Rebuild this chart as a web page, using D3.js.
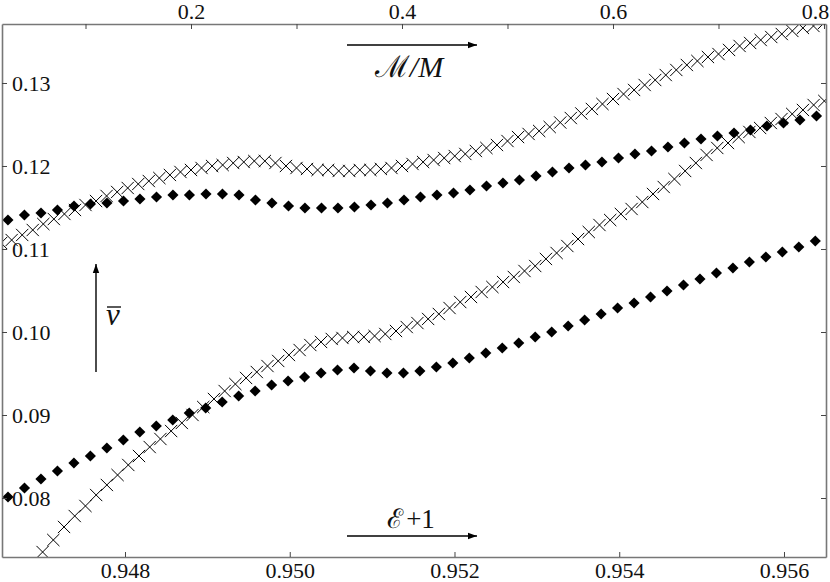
<!DOCTYPE html>
<html><head><meta charset="utf-8">
<script src="https://cdn.jsdelivr.net/npm/d3@7"></script>
<style>
body{margin:0;background:#fff}
svg{display:block}
text{font-family:"Liberation Serif","DejaVu Serif",serif;fill:#111}
</style>
</head><body>
<svg id="c" width="830" height="582"></svg>
<script>
// ---- data ----
// upper pair: v-bar against M/M (top axis)
const upperCrossX = [0.02,0.03,0.04,0.05,0.06,0.07,0.08,0.09,0.10,0.11,0.12,0.13,0.14,0.15,0.16,0.17,0.18,0.19,0.20,
 0.21,0.22,0.23,0.24,0.25,0.26,0.27,0.28,0.29,0.30,0.31,0.32,0.33,0.34,0.35,0.36,0.37,0.38,0.39,0.40,
 0.41,0.42,0.43,0.44,0.45,0.46,0.47,0.48,0.49,0.50,0.51,0.52,0.53,0.54,0.55,0.56,0.57,0.58,0.59,0.60,
 0.61,0.62,0.63,0.64,0.65,0.66,0.67,0.68,0.69,0.70,0.71,0.72,0.73,0.74,0.75,0.76,0.77,0.78,0.79,0.80];
const upperCrossV = [0.11072,0.11108,0.11169,0.11229,0.11301,0.11361,0.11422,0.11470,0.11530,0.11578,0.11639,0.11687,0.11735,0.11783,0.11819,0.11855,0.11892,0.11928,0.11952,
 0.11976,0.12000,0.12012,0.12036,0.12048,0.12060,0.12060,0.12036,0.12000,0.11976,0.11964,0.11952,0.11952,0.11940,0.11940,0.11952,0.11952,0.11964,0.11976,0.12000,
 0.12024,0.12048,0.12072,0.12096,0.12120,0.12145,0.12181,0.12217,0.12253,0.12301,0.12349,0.12386,0.12422,
 0.12470,0.12524,0.12578,0.12633,0.12687,0.12747,0.12807,0.12867,0.12916,0.12976,0.13036,0.13096,0.13157,0.13217,0.13265,0.13313,0.13349,0.13398,0.13446,0.13482,0.13518,0.13554,0.13590,0.13627,0.13663,0.13687,0.13723];
const upperDiamondX = [0.0265,0.0421,0.0578,0.0734,0.0891,0.1047,0.1203,0.1360,0.1516,0.1673,0.1829,0.1985,0.2142,0.2298,0.2455,0.2611,0.2767,0.2924,0.3080,0.3237,
 0.3393,0.3549,0.3706,0.3862,0.4019,0.4175,0.4331,0.4488,0.4644,0.4801,0.4957,0.5113,0.5270,0.5426,0.5583,0.5739,0.5895,0.6052,0.6208,0.6365,
 0.6521,0.6677,0.6834,0.6990,0.7147,0.7303,0.7459,0.7616,0.7772,0.7929];
const upperDiamondV = [0.11349,0.11410,0.11434,0.11470,0.11518,0.11542,0.11554,0.11578,0.11602,0.11627,0.11651,0.11651,0.11663,0.11663,0.11651,0.11590,0.11554,0.11518,0.11494,0.11494,
 0.11494,0.11506,0.11530,0.11554,0.11590,0.11627,0.11651,0.11675,0.11711,0.11759,0.11795,0.11831,0.11880,0.11928,0.11976,0.12012,0.12048,0.12096,0.12145,0.12181,
 0.12229,0.12277,0.12325,0.12361,0.12398,0.12434,0.12482,0.12518,0.12554,0.12602];
// lower pair: v-bar against E+1 (bottom axis)
const lowerCrossX = [0.94700,0.94713,0.94726,0.94739,0.94752,0.94765,0.94778,0.94791,0.94804,0.94817,0.94830,0.94843,0.94856,0.94869,0.94882,0.94895,0.94908,0.94921,0.94934,0.94947,
 0.94960,0.94973,0.94986,0.94999,0.95012,0.95025,0.95038,0.95051,0.95064,0.95077,0.95090,0.95103,0.95116,0.95129,0.95142,0.95155,0.95168,0.95181,0.95194,0.95207,
 0.95220,0.95233,0.95246,0.95259,0.95272,0.95285,0.95298,0.95311,0.95324,0.95337,0.95350,0.95363,0.95376,0.95389,0.95402,0.95415,0.95428,0.95441,0.95454,0.95467,
 0.95480,0.95493,0.95506,0.95519,0.95532,0.95545,0.95558,0.95571,0.95584,0.95597,0.95610,0.95623,0.95636,0.95649];
const lowerCrossV = [0.07349,0.07494,0.07651,0.07783,0.07904,0.08036,0.08157,0.08277,0.08398,0.08506,
 0.08614,0.08711,0.08807,0.08904,0.09000,0.09096,0.09193,0.09289,0.09373,0.09446,
 0.09518,0.09590,0.09651,0.09723,0.09783,0.09843,0.09880,0.09916,0.09928,0.09940,
 0.09940,0.09952,0.09976,0.10012,0.10060,0.10108,0.10157,0.10217,0.10289,0.10361,
 0.10422,0.10482,0.10542,0.10602,0.10663,0.10735,0.10795,0.10880,0.10952,0.11036,
 0.11120,0.11205,0.11289,0.11349,0.11422,0.11482,
 0.11566,0.11663,0.11747,0.11843,0.11940,0.12036,0.12133,0.12217,0.12277,0.12349,0.12410,0.12458,0.12518,0.12566,0.12627,0.12675,0.12735,0.12783];
const lowerDiamondX = [0.94658,0.94678,0.94698,0.94718,0.94738,0.94758,0.94778,0.94798,0.94818,0.94838,0.94858,0.94878,0.94898,0.94918,0.94938,0.94958,0.94978,0.94998,0.95018,0.95038,
 0.95058,0.95078,0.95098,0.95118,0.95138,0.95158,0.95178,0.95198,0.95218,0.95238,0.95258,0.95278,0.95298,0.95318,0.95338,0.95358,0.95378,0.95398,0.95418,0.95438,
 0.95458,0.95478,0.95498,0.95518,0.95538,0.95558,0.95578,0.95598,0.95618,0.95638];
const lowerDiamondV = [0.08012,0.08120,0.08229,0.08325,0.08422,0.08506,0.08602,0.08699,0.08795,0.08867,
 0.08940,0.09024,0.09084,0.09157,0.09229,0.09289,0.09361,0.09410,0.09458,0.09506,
 0.09542,0.09566,0.09530,0.09506,0.09506,0.09530,0.09578,0.09627,0.09687,0.09747,
 0.09807,0.09867,0.09940,0.10000,0.10072,0.10145,0.10217,0.10289,0.10349,0.10422,
 0.10494,0.10566,0.10639,0.10711,0.10771,0.10843,0.10904,0.10964,0.11024,0.11096];

const yTicks = [0.08,0.09,0.10,0.11,0.12,0.13];
const bottomTicks = [0.948,0.950,0.952,0.954,0.956];
const topTicks = [0.1,0.2,0.3,0.4,0.5,0.6,0.7,0.8];
const topTickLabels = ["","0.2","","0.4","","0.6","","0.8"];

// ---- layout ----
const L = 2, R = 826, T = 24, B = 557;
const xBot = d3.scaleLinear().domain([0.946507, 0.95651]).range([L, R]);
const xTop = d3.scaleLinear().domain([0.02085, 0.8019]).range([L, R]);
const y = d3.scaleLinear().domain([0.072892, 0.137108]).range([B, T]);

const svg = d3.select("#c");
svg.append("defs").append("clipPath").attr("id","plot")
  .append("rect").attr("x",L).attr("y",T).attr("width",R-L).attr("height",B-T);

const g = svg.append("g").attr("clip-path","url(#plot)");
const diamond = d3.symbol(d3.symbolSquare, 62);
const cross = d3.symbol(d3.symbolX, 100);

function drawDiamonds(xs, vs, xs_scale){
  g.append("g").selectAll("path").data(d3.zip(xs, vs)).join("path")
    .attr("d", diamond)
    .attr("transform", d => `translate(${xs_scale(d[0])},${y(d[1])}) rotate(45)`)
    .attr("fill","#000");
}
function drawCrosses(xs, vs, xs_scale){
  g.append("g").selectAll("path").data(d3.zip(xs, vs)).join("path")
    .attr("d", cross)
    .attr("transform", d => `translate(${xs_scale(d[0])},${y(d[1])})`)
    .attr("fill","none").attr("stroke","#000").attr("stroke-width",1);
}
drawCrosses(upperCrossX, upperCrossV, xTop);
drawDiamonds(upperDiamondX, upperDiamondV, xTop);
drawCrosses(lowerCrossX, lowerCrossV, xBot);
drawDiamonds(lowerDiamondX, lowerDiamondV, xBot);

// ---- axes ----
function style(sel){
  sel.select(".domain").attr("stroke","#777").attr("stroke-width",1.6);
  sel.selectAll(".tick line").attr("stroke","#444").attr("stroke-width",1);
  sel.selectAll(".tick text").attr("font-size",22).attr("font-family",'"Liberation Serif","DejaVu Serif",serif').attr("fill","#111");
}
svg.append("g").attr("transform",`translate(0,${B})`)
  .call(d3.axisBottom(xBot).tickValues(bottomTicks).tickFormat(d3.format(".3f")).tickSize(-5).tickSizeOuter(0).tickPadding(5))
  .call(style);
const xt = svg.append("g").attr("transform",`translate(0,${T})`)
  .call(d3.axisTop(xTop).tickValues(topTicks).tickFormat((d,i)=>topTickLabels[i]).tickSize(-5).tickSizeOuter(0).tickPadding(5))
  .call(style);
xt.selectAll(".tick text").filter((d,i)=>i===topTicks.length-1).attr("dx",-9);
const yl = svg.append("g").attr("transform",`translate(${L},0)`)
  .call(d3.axisLeft(y).tickValues(yTicks).tickFormat(d3.format(".2f")).tickSize(-5).tickSizeOuter(0))
  .call(style);
yl.selectAll(".tick text").attr("x",10).attr("text-anchor","start").attr("dy","0.34em");
svg.append("g").attr("transform",`translate(${R},0)`)
  .call(d3.axisRight(y).tickValues(yTicks).tickFormat("").tickSize(-5).tickSizeOuter(0))
  .call(style);

// ---- annotations ----
const ann = svg.append("g");
function arrow(x1,y1,x2,y2){
  ann.append("line").attr("x1",x1).attr("y1",y1).attr("x2",x2).attr("y2",y2)
    .attr("stroke","#000").attr("stroke-width",1.4);
  const a = Math.atan2(y2-y1,x2-x1), len=9, w=3.2;
  const p = [[x2,y2],[x2-len*Math.cos(a)+w*Math.sin(a), y2-len*Math.sin(a)-w*Math.cos(a)],
             [x2-len*Math.cos(a)-w*Math.sin(a), y2-len*Math.sin(a)+w*Math.cos(a)]];
  ann.append("path").attr("d","M"+p.join("L")+"Z").attr("fill","#000");
}
arrow(347,45,477,45);
const tm = ann.append("text").attr("x",409).attr("y",77).attr("text-anchor","middle").attr("font-size",30);
tm.append("tspan").text("ℳ");
tm.append("tspan").attr("font-style","italic").text("/M");

arrow(347,536,477,536);
const te = ann.append("text").attr("x",411).attr("y",528).attr("text-anchor","middle").attr("font-size",27);
te.append("tspan").text("ℰ");
te.append("tspan").attr("dx",3).text("+1");

arrow(96,372,96,264);
ann.append("text").attr("x",106).attr("y",325).attr("font-size",31).attr("font-style","italic").text("v");
ann.append("line").attr("x1",107).attr("x2",121).attr("y1",307).attr("y2",307).attr("stroke","#000").attr("stroke-width",1.3);
</script>
</body></html>
